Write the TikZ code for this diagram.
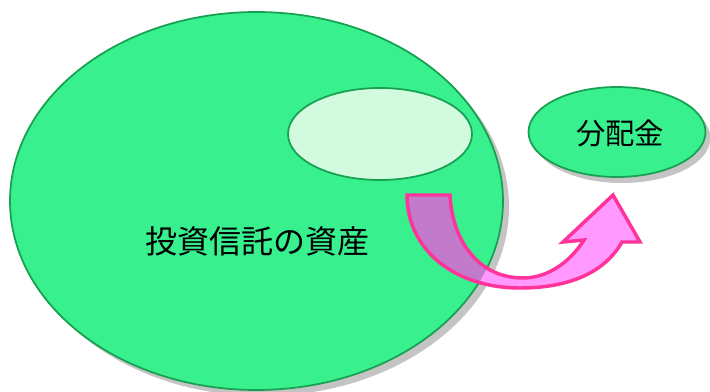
\documentclass[tikz,border=0pt]{standalone}
\usepackage{fontspec}
\newfontfamily\jpfont{Noto Sans CJK JP}
\usetikzlibrary{shapes.geometric}
\definecolor{bodygreen}{HTML}{38F08E}
\definecolor{edgegreen}{HTML}{16A050}
\definecolor{lightdot}{HTML}{D2FADF}
\definecolor{arrowpink}{HTML}{FF99FF}
\definecolor{arrowpurple}{HTML}{C27ACB}
\definecolor{arrowedge}{HTML}{FF3399}
\definecolor{shadowgray}{HTML}{C4C4C4}
\tikzset{
  blob/.style={ellipse, draw=edgegreen, line width=1.3pt, fill=bodygreen, inner sep=0pt},
  shade/.style={ellipse, fill=shadowgray, inner sep=0pt, draw=none},
  label/.style={font=\jpfont, text=black, inner sep=0pt},
  arrowline/.style={draw=arrowedge, line width=2.6pt, line join=miter}
}
\begin{document}
\begin{tikzpicture}[x=0.75pt,y=-0.75pt]
\useasboundingbox (0,0) rectangle (710,392);
\fill[white] (0,0) rectangle (710,392);
% shadows
\node[shade, minimum width=369.75pt, minimum height=283.5pt] (bigshadow) at (262.5,207) {};
\node[shade, minimum width=132.75pt, minimum height=67.5pt] (distshadow) at (622,138) {};
% big ellipse
\node[blob, minimum width=369.75pt, minimum height=283.5pt] (assets) at (256.5,201) {};
\node[blob, fill=lightdot, minimum width=138pt, minimum height=69pt] (part) at (380,134) {};
\node[label, font=\jpfont\fontsize{24pt}{24pt}\selectfont] (assetstext) at (257,241) {投資信託の資産};
% arrow
\def\arrowpath{(407,195) -- (450,195)
 .. controls (452,240) and (478,278) .. (523,278)
 .. controls (548,278) and (570,262) .. (584,240)
 -- (563,242) -- (613,195) -- (640,242) -- (622,242)
 .. controls (605,272) and (570,288) .. (520,288)
 .. controls (455,288) and (407,250) .. (407,195) -- cycle}
\fill[arrowpink] \arrowpath;
\begin{scope}
\clip (256.5,201) ellipse [x radius=246.5, y radius=189];
\fill[arrowpurple] \arrowpath;
\end{scope}
\draw[arrowline] \arrowpath;
% distribution
\node[blob, minimum width=132.75pt, minimum height=67.5pt] (dist) at (617,132) {};
\node[label, font=\jpfont\fontsize{22pt}{22pt}\selectfont] (disttext) at (620,133) {分配金};
\end{tikzpicture}
\end{document}
